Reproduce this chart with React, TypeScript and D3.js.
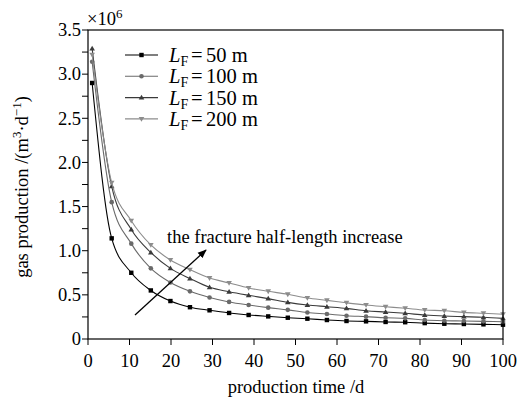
import React from "react";
import * as d3 from "d3";

// Production time (d) at which each series is sampled
const times = [1, 5.71, 10.43, 15.14, 19.86, 24.57, 29.29, 34, 38.71, 43.43, 48.14, 52.86, 57.57, 62.29, 67, 71.71, 76.43, 81.14, 85.86, 90.57, 95.29, 100];

// Gas production (×10^6 m³/d) for each fracture half-length
const lf50 = [2.9, 1.14, 0.75, 0.55, 0.43, 0.36, 0.325, 0.295, 0.272, 0.256, 0.241, 0.23, 0.215, 0.204, 0.2, 0.193, 0.19, 0.18, 0.173, 0.17, 0.166, 0.162];
const lf100 = [3.14, 1.55, 1.08, 0.8, 0.64, 0.54, 0.47, 0.42, 0.385, 0.355, 0.33, 0.3, 0.283, 0.264, 0.253, 0.24, 0.234, 0.215, 0.207, 0.204, 0.2, 0.196];
const lf150 = [3.29, 1.73, 1.24, 0.98, 0.8, 0.685, 0.585, 0.536, 0.495, 0.457, 0.415, 0.385, 0.366, 0.347, 0.32, 0.306, 0.291, 0.272, 0.26, 0.253, 0.246, 0.234];
const lf200 = [3.22, 1.77, 1.34, 1.065, 0.895, 0.785, 0.69, 0.635, 0.578, 0.54, 0.506, 0.464, 0.438, 0.41, 0.385, 0.366, 0.348, 0.328, 0.32, 0.302, 0.291, 0.28];

const seriesLabels = ["50", "100", "150", "200"];
const seriesValues = [lf50, lf100, lf150, lf200];
const seriesColors = ["#000000", "#6a6a6a", "#3a3a3a", "#8c8c8c"];
const seriesMarkers = ["square", "circle", "triangle", "triangleDown"];

const xTicks = [0, 10, 20, 30, 40, 50, 60, 70, 80, 90, 100];
const yTicks = [0, 0.5, 1.0, 1.5, 2.0, 2.5, 3.0, 3.5];
const yMinorTicks = [0.25, 0.75, 1.25, 1.75, 2.25, 2.75, 3.25];

const W = 524;
const H = 403;
const left = 88;
const right = 503;
const top = 30;
const bottom = 339;
const font = "'Liberation Serif', 'Times New Roman', serif";

function Marker({ kind, x, y, color }: { kind: string; x: number; y: number; color: string }) {
  if (kind === "square") return <rect x={x - 2.2} y={y - 2.2} width={4.4} height={4.4} fill={color} />;
  if (kind === "circle") return <circle cx={x} cy={y} r={2.3} fill={color} />;
  const s = 2.8;
  const pts =
    kind === "triangle"
      ? `${x},${y - s} ${x - s},${y + s * 0.7} ${x + s},${y + s * 0.7}`
      : `${x},${y + s} ${x - s},${y - s * 0.7} ${x + s},${y - s * 0.7}`;
  return <polygon points={pts} fill={color} />;
}

export default function App() {
  const x = d3.scaleLinear().domain([0, 100]).range([left, right]);
  const y = d3.scaleLinear().domain([0, 3.5]).range([bottom, top]);
  const line = d3
    .line<number>()
    .x((_, i) => x(times[i]))
    .y((d) => y(d))
    .curve(d3.curveMonotoneX);

  const legendX = 125;
  const legendY = 55;
  const legendStep = 21.3;

  return (
    <svg
      width={W}
      height={H}
      style={{ position: "absolute", left: 0, top: 0, background: "#fff" }}
      fontFamily={font}
    >
      <rect width={W} height={H} fill="#fff" />

      {/* series curves */}
      {seriesValues.map((vals, si) => (
        <g key={si}>
          <path d={line(vals) || ""} fill="none" stroke={seriesColors[si]} strokeWidth={1.1} />
          {vals.map((v, i) => (
            <Marker key={i} kind={seriesMarkers[si]} x={x(times[i])} y={y(v)} color={seriesColors[si]} />
          ))}
        </g>
      ))}

      {/* frame */}
      <rect x={left} y={top} width={right - left} height={bottom - top} fill="none" stroke="#000" strokeWidth={1.2} />

      {/* y axis */}
      {yTicks.map((t) => (
        <g key={t}>
          <line x1={left - 6} x2={left} y1={y(t)} y2={y(t)} stroke="#000" strokeWidth={1} />
          <text x={left - 7} y={y(t)} dy="0.34em" textAnchor="end" fontSize={18.5}>
            {t === 0 ? "0" : d3.format(".1f")(t)}
          </text>
        </g>
      ))}
      {yMinorTicks.map((t) => (
        <line key={t} x1={left - 6} x2={left} y1={y(t)} y2={y(t)} stroke="#000" strokeWidth={1} />
      ))}

      {/* x axis */}
      {xTicks.map((t) => (
        <g key={t}>
          <line x1={x(t)} x2={x(t)} y1={bottom} y2={bottom + 6} stroke="#000" strokeWidth={1} />
          <text x={x(t)} y={367} textAnchor="middle" fontSize={18.5}>
            {t}
          </text>
        </g>
      ))}

      {/* multiplier */}
      <text x={87} y={25} fontSize={18.5}>
        ×10
        <tspan dy={-7} fontSize={13}>
          6
        </tspan>
      </text>

      {/* axis titles */}
      <text x={296} y={393} textAnchor="middle" fontSize={18.5}>
        production time /d
      </text>
      <text transform={`translate(28, 187) rotate(-90)`} textAnchor="middle" fontSize={18.5}>
        gas production /(m
        <tspan dy={-7} fontSize={13}>
          3
        </tspan>
        <tspan dy={7}>·d</tspan>
        <tspan dy={-7} fontSize={13}>
          −1
        </tspan>
        <tspan dy={7}>)</tspan>
      </text>

      {/* legend */}
      {seriesLabels.map((lab, i) => {
        const ly = legendY + i * legendStep;
        return (
          <g key={lab}>
            <line x1={legendX} x2={legendX + 33} y1={ly} y2={ly} stroke={seriesColors[i]} strokeWidth={1.1} />
            <Marker kind={seriesMarkers[i]} x={legendX + 16.5} y={ly} color={seriesColors[i]} />
            <text y={ly} dy="0.35em" fontSize={20.5}>
              <tspan x={169} fontStyle="italic">L</tspan>
              <tspan x={180.5} dy={4} fontSize={14}>
                F
              </tspan>
              <tspan x={191} dy={-4}>=</tspan>
              <tspan x={206}>{`${lab} m`}</tspan>
            </text>
          </g>
        );
      })}

      {/* annotation */}
      <defs>
        <marker id="arrowHead" viewBox="0 0 10 10" refX={9} refY={5} markerWidth={9} markerHeight={9} orient="auto" markerUnits="userSpaceOnUse">
          <path d="M0,1 L10,5 L0,9 Z" fill="#000" />
        </marker>
      </defs>
      <line x1={135} y1={315} x2={206} y2={250} stroke="#000" strokeWidth={1.3} markerEnd="url(#arrowHead)" />
      <text x={167} y={243} fontSize={18.5}>
        the fracture half-length increase
      </text>
    </svg>
  );
}
